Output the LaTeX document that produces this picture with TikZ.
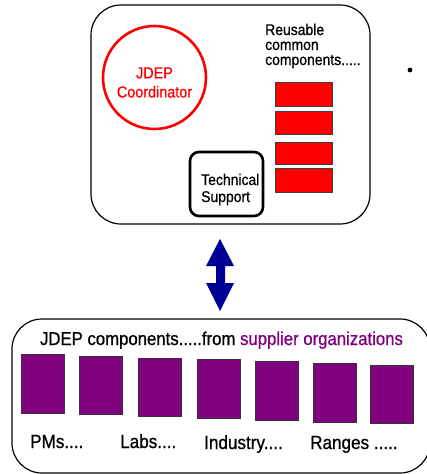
\documentclass[tikz,border=0pt]{standalone}
\usepackage{fontspec}
\setmainfont[FakeStretch=0.9,FakeBold=0.8]{Liberation Sans}
\definecolor{jdeppurple}{RGB}{128,0,128}
\definecolor{jdepnavy}{RGB}{0,0,150}
\begin{document}
\begin{tikzpicture}[x=1pt,y=-1pt,
  panel/.style={draw=black, line width=1.2pt, rounded corners=30pt},
  reusebox/.style={draw=black!75, line width=0.6pt, fill=red, minimum width=57pt, inner sep=0pt},
  supplierbox/.style={draw=black!80, line width=0.8pt, fill=jdeppurple, minimum width=43pt, inner sep=0pt},
  toptext/.style={font=\fontsize{15.5}{15}\selectfont, inner sep=0pt, align=left},
  bottext/.style={font=\fontsize{19}{22}\selectfont, inner sep=0pt}]
\useasboundingbox (0,0) rectangle (426,474);

% upper panel
\draw[panel] (91,5) rectangle (370,224);

% coordinator circle
\node[circle, draw=red, line width=2.6pt, minimum size=103pt, inner sep=0pt] (coord) at (154.5,77.5) {};
\node[font=\fontsize{16}{19}\selectfont, text=red, align=center, inner sep=0pt] (coordtxt) at ([yshift=-5pt]coord.center) {JDEP\\Coordinator};

% technical support
\draw[draw=black, line width=2.6pt, rounded corners=9pt] (190,152) rectangle (263,216);
\node[toptext, anchor=base west, font=\fontsize{15.5}{17}\selectfont] (tech) at (201,202) {Technical\\Support};

% reusable components (base anchor sits on the last line)
\node[toptext, anchor=base west] (reuse) at (265,65) {Reusable\\common\\components.....};
\node[reusebox, minimum height=24pt] (r1) at (303.5,94) {};
\node[reusebox, minimum height=23pt] (r2) at (303.5,122.5) {};
\node[reusebox, minimum height=22pt] (r3) at (303.5,153) {};
\node[reusebox, minimum height=24pt] (r4) at (303.5,180) {};

% bullet
\fill (410,70) circle (2.4pt);

% two-way arrow between the panels
\fill[jdepnavy] (220,239) -- (234,266) -- (225,266) -- (225,283) -- (234,283)
  -- (220,311) -- (206,283) -- (216,283) -- (216,266) -- (206,266) -- cycle;

% lower panel
\draw[panel] (12,319) rectangle (430,473);
\node[bottext, font=\fontsize{18.6}{22}\selectfont, anchor=base] (title) at (221.5,345) {JDEP components.....from \textcolor{jdeppurple}{supplier organizations}};

\node[supplierbox, minimum height=59pt] (s1) at (42.5,383.5) {};
\node[supplierbox, minimum height=58pt] (s2) at (101,385) {};
\node[supplierbox, minimum height=58pt] (s3) at (160,387) {};
\node[supplierbox, minimum height=59pt] (s4) at (218.5,388.5) {};
\node[supplierbox, minimum height=59pt] (s5) at (277,390.5) {};
\node[supplierbox, minimum height=59pt] (s6) at (335,392.5) {};
\node[supplierbox, minimum height=58pt] (s7) at (391.5,394) {};

\node[bottext, anchor=base west] (pms) at (30,448) {PMs....};
\node[bottext, anchor=base west] (labs) at (120,448) {Labs....};
\node[bottext, anchor=base west] (ind) at (204,449) {Industry....};
\node[bottext, anchor=base west] (rng) at (310,449) {Ranges .....};
\end{tikzpicture}
\end{document}
